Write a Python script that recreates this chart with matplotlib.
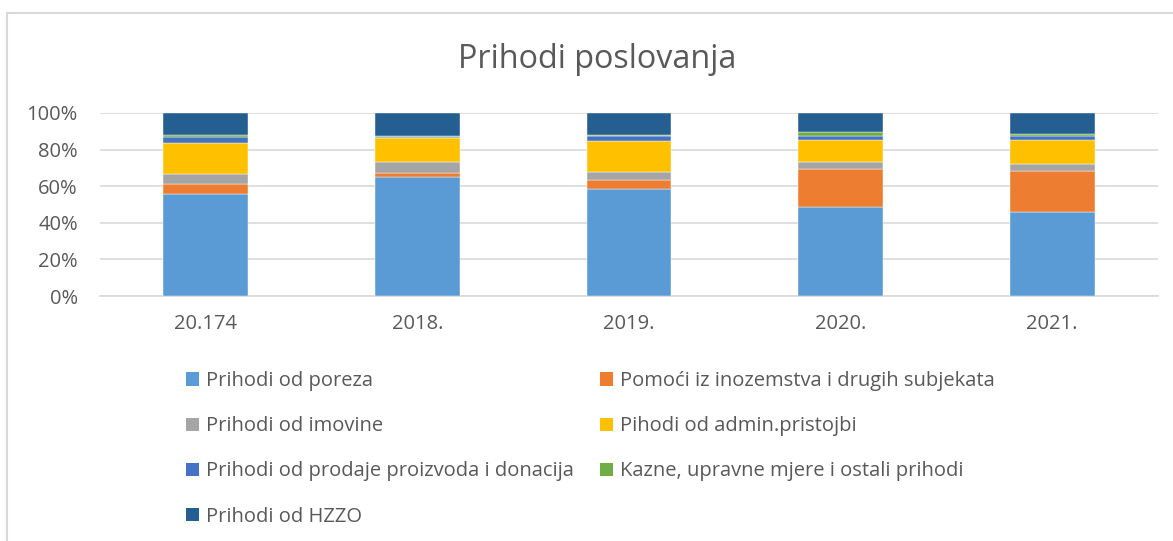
import numpy as np
import matplotlib
matplotlib.use("Agg")
import matplotlib.pyplot as plt
from matplotlib.patches import Rectangle, Patch
from matplotlib.ticker import PercentFormatter

plt.rcParams['font.family'] = ['Open Sans', 'DejaVu Sans']

# Data (shares in %)
years = ["20.174", "2018.", "2019.", "2020.", "2021."]
porez = [55.8, 64.9, 58.5, 48.8, 45.7]
pomoci = [5.5, 2.4, 4.9, 20.7, 22.7]
imovina = [5.3, 5.9, 4.4, 3.7, 3.7]
admin = [17.0, 13.2, 16.8, 11.9, 13.2]
prodaja = [3.1, 0.4, 2.7, 2.2, 2.2]
kazne = [1.1, 0.9, 0.9, 2.2, 0.9]
hzzo = [12.2, 12.3, 11.8, 10.5, 11.6]

series = [
    ("Prihodi od poreza", porez, "#5B9BD5"),
    ("Pomoći iz inozemstva i drugih subjekata", pomoci, "#ED7D31"),
    ("Prihodi od imovine", imovina, "#A5A5A5"),
    ("Pihodi od admin.pristojbi", admin, "#FFC000"),
    ("Prihodi od prodaje proizvoda i donacija", prodaja, "#4472C4"),
    ("Kazne, upravne mjere i ostali prihodi", kazne, "#70AD47"),
    ("Prihodi od HZZO", hzzo, "#255E91"),
]

text_col = "#595959"
fig = plt.figure(figsize=(11.73, 5.41), dpi=100)
ax = fig.add_axes([100 / 1173, 1 - 296 / 541, 1058 / 1173, 183 / 541])

x = np.arange(len(years))
bottom = np.zeros(len(years))
for name, vals, col in series:
    v = np.array(vals)
    ax.bar(x, v, 0.4, bottom=bottom, color=col, edgecolor="white", linewidth=0.3, zorder=3)
    bottom += v

ax.set_xlim(-0.5, len(years) - 0.5)
ax.set_ylim(0, 100)
ax.set_yticks(range(0, 101, 20))
ax.yaxis.set_major_formatter(PercentFormatter(decimals=0))
ax.set_xticks(x)
ax.set_xticklabels(years)
ax.grid(axis="y", color="#d9d9d9", linewidth=1.2, zorder=0)
for s in ["top", "right", "left"]:
    ax.spines[s].set_visible(False)
ax.spines["bottom"].set_color("#d9d9d9")
ax.spines["bottom"].set_linewidth(1.2)
ax.tick_params(length=0, labelsize=14.5, labelcolor=text_col)
ax.tick_params(axis="y", pad=16)
ax.tick_params(axis="x", pad=13)

fig.text(597 / 1173, 1 - 60 / 541, "Prihodi poslovanja", ha="center", va="center",
         fontsize=23.3, color=text_col)

# legend, filled column-wise to reproduce row order
order = [0, 2, 4, 6, 1, 3, 5]
handles = [Patch(facecolor=series[i][2], label=series[i][0]) for i in order]
fig.legend(handles=handles, loc="upper left", bbox_to_anchor=(168 / 1173, 1 - 353 / 541),
           ncol=2, frameon=False, fontsize=14.5, labelcolor=text_col,
           handlelength=0.65, handleheight=0.65, handletextpad=0.35,
           labelspacing=1.25, columnspacing=1.3)

# chart border
fig.patches.append(Rectangle((7 / 1173, -0.1), 1.2, 1 - 13 / 541 + 0.1,
                             transform=fig.transFigure, fill=False,
                             edgecolor="#d9d9d9", linewidth=1.5))

fig.savefig("out.png", dpi=100)
